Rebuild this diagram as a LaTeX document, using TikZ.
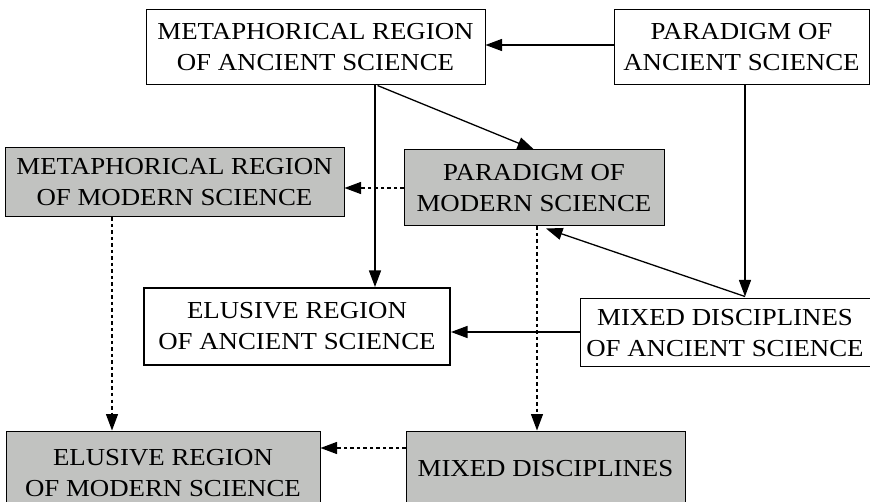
\documentclass[tikz,border=0pt]{standalone}
\usepackage{fontspec}
\setmainfont{Liberation Serif}[FakeStretch=1.1]
\usetikzlibrary{arrows.meta}
\definecolor{boxgray}{RGB}{193,194,192}
\tikzset{
  box/.style={draw=black, line width=1pt, fill=white, align=center, inner sep=0pt,
    font=\fontsize{24.4}{31}\selectfont},
  graybox/.style={box, fill=boxgray},
  thickbox/.style={box, line width=2pt},
  conn/.style={line width=1.3pt, -{Triangle[length=16.5pt,width=12pt]}},
  dconn/.style={conn, dash pattern=on 3.5pt off 3pt},
}
\begin{document}
\begin{tikzpicture}[x=1pt,y=-1pt]
\useasboundingbox (0,0) rectangle (870,502);
% nodes
\node[box, minimum width=339pt, minimum height=75pt] (MA) at (315.5,47.5) {METAPHORICAL REGION\\OF ANCIENT SCIENCE};
\node[box, minimum width=255pt, minimum height=75pt] (PA) at (741.5,47.5) {PARADIGM OF\\ANCIENT SCIENCE};
\node[graybox, minimum width=339pt, minimum height=69pt] (MM) at (174.5,182.5) {METAPHORICAL REGION\\OF MODERN SCIENCE};
\node[graybox, minimum width=260pt, minimum height=76pt] (PM) at (534,188) {PARADIGM OF\\MODERN SCIENCE};
\node[thickbox, minimum width=306pt, minimum height=77pt] (EA) at (297,326.5) {ELUSIVE REGION\\OF ANCIENT SCIENCE};
\node[box, minimum width=290pt, minimum height=68pt] (MxA) at (725,333) {MIXED DISCIPLINES\\OF ANCIENT SCIENCE};
\node[graybox, minimum width=314pt, minimum height=85pt] (EM) at (163,473.5) {ELUSIVE REGION\\OF MODERN SCIENCE};
\node[graybox, minimum width=279pt, minimum height=80pt] (MxM) at (545.5,471) {\raisebox{6pt}{MIXED DISCIPLINES}};
% helper coordinates
\coordinate (xa) at (375,0);
\coordinate (xb) at (745,0);
\coordinate (xc) at (537,0);
\coordinate (xd) at (112,0);
\coordinate (ya) at (0,45);
\coordinate (yb) at (0,188);
\coordinate (yc) at (0,332);
\coordinate (yd) at (0,448);
% solid connectors
\draw[conn] (PA.west |- ya) -- (MA.east |- ya);
\draw[conn] ([xshift=62pt]MA.south) -- (PM.north);
\draw[conn] (MA.south -| xa) -- (EA.north -| xa);
\draw[conn] (PA.south -| xb) -- ([yshift=2pt]MxA.north -| xb);
\draw[conn] ([yshift=2pt]MxA.north -| xb) -- ([xshift=12pt,yshift=-2pt]PM.south);
\draw[conn] (MxA.west |- yc) -- (EA.east |- yc);
% dashed connectors
\draw[dconn] (PM.west |- yb) -- (MM.east |- yb);
\draw[dconn] (PM.south -| xc) -- (MxM.north -| xc);
\draw[dconn] (MM.south -| xd) -- (EM.north -| xd);
\draw[dconn] (MxM.west |- yd) -- (EM.east |- yd);
\end{tikzpicture}
\end{document}
